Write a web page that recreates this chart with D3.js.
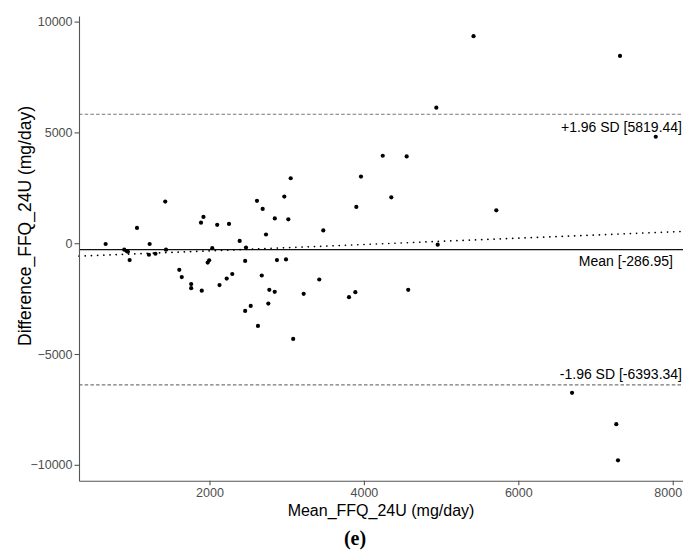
<!DOCTYPE html>
<html>
<head>
<meta charset="utf-8">
<script src="https://cdn.jsdelivr.net/npm/d3@7"></script>
<style>
  body { margin: 0; background: #fff; }
  svg { display: block; font-family: "Liberation Sans", Arial, sans-serif; }
  .axis path, .axis line { stroke: #555; stroke-width: 1.1; }
  .axis text { fill: #4d4d4d; font-size: 12.5px; font-family: "Liberation Sans", Arial, sans-serif; }
</style>
</head>
<body>
<div id="chart"></div>
<script>
// Mean of the two methods (mg/day)
const meanValues = [
  655, 896, 927, 944, 966, 1061, 1225, 1216, 1300, 1427,
  1437, 1609, 1641, 1763, 1763, 1900, 1890, 1922, 2036, 1996,
  1977, 2100, 2130, 2253, 2223, 2295, 2391, 2473, 2462, 2462,
  2534, 2628, 2615, 2689, 2732, 2677, 2775, 2762, 2845, 2874,
  2846, 2969, 3052, 3021, 2991, 3084, 3220, 3422, 3474, 3807,
  3889, 3902, 3962, 4244, 4355, 4554, 4574, 4938, 4956, 5715,
  5420, 6696, 7269, 7291, 7317, 7780
];
// Difference FFQ - 24U (mg/day)
const diffValues = [
  -36, -294, -353, -385, -760, 688, -36, -520, -475, 1878,
  -294, -1199, -1529, -1846, -2027, -2140, 928, 1186, -226, -769,
  -873, 828, -1887, 869, -1597, -1389, 104, -195, -801, -3054,
  -2828, -3733, 1914, 1548, 394, -1457, -2104, -2724, -2195, -760,
  1118, 2104, 2932, 1077, -733, -4321, -2285, -1638, 579, -2434,
  -2208, 1638, 3009, 3946, 2072, 3914, -2104, 6118, -68, 1484,
  9344, -6751, -8167, -9796, 8452, 4805
];

const meanDiff = -286.95;
const upperLoA = 5819.44;
const lowerLoA = -6393.34;
// proportional bias trend
const trendIntercept = -631;
const trendSlope = 0.143;

const xTicks = [2000, 4000, 6000, 8000];
const yTicks = [-10000, -5000, 0, 5000, 10000];

const W = 683, H = 557;
const panel = { left: 79, right: 683, top: 16, bottom: 480.7 };

const svg = d3.select("#chart")
  .append("svg")
  .attr("width", W)
  .attr("height", H);

const x = d3.scaleLinear()
  .domain([310, 8133])
  .range([panel.left, panel.right]);

const y = d3.scaleLinear()
  .domain([-10717, 10253])
  .range([panel.bottom, panel.top]);

// Reference lines
const xDom = x.domain();

svg.append("line")
  .attr("x1", panel.left).attr("x2", panel.right)
  .attr("y1", y(upperLoA)).attr("y2", y(upperLoA))
  .attr("stroke", "#777")
  .attr("stroke-width", 1.1)
  .attr("stroke-dasharray", "3.5,2.2");

svg.append("line")
  .attr("x1", panel.left).attr("x2", panel.right)
  .attr("y1", y(lowerLoA)).attr("y2", y(lowerLoA))
  .attr("stroke", "#777")
  .attr("stroke-width", 1.1)
  .attr("stroke-dasharray", "3.5,2.2");

svg.append("line")
  .attr("x1", panel.left).attr("x2", panel.right)
  .attr("y1", y(meanDiff)).attr("y2", y(meanDiff))
  .attr("stroke", "#111")
  .attr("stroke-width", 1.2);

// Trend line across the panel
svg.append("line")
  .attr("x1", x(xDom[0])).attr("x2", x(xDom[1]))
  .attr("y1", y(trendIntercept + trendSlope * xDom[0]))
  .attr("y2", y(trendIntercept + trendSlope * xDom[1]))
  .attr("stroke", "#000")
  .attr("stroke-width", 1.7)
  .attr("stroke-linecap", "round")
  .attr("stroke-dasharray", "0.1,6.1");

// Points
const points = meanValues.map((m, i) => ({ m: m, d: diffValues[i] }));

svg.selectAll("circle.pt")
  .data(points)
  .join("circle")
  .attr("class", "pt")
  .attr("cx", d => x(d.m))
  .attr("cy", d => y(d.d))
  .attr("r", 2.1)
  .attr("fill", "#000");

// Axes
const xAxis = svg.append("g")
  .attr("class", "axis")
  .attr("transform", `translate(0,${panel.bottom})`)
  .call(d3.axisBottom(x).tickValues(xTicks).tickFormat(d3.format("d"))
    .tickSize(4.5).tickPadding(3).tickSizeOuter(0));

// keep the last label inside the page
xAxis.selectAll(".tick text")
  .filter(d => d === 8000)
  .attr("dx", "-5");

svg.append("g")
  .attr("class", "axis")
  .attr("transform", `translate(${panel.left},0)`)
  .call(d3.axisLeft(y).tickValues(yTicks).tickFormat(d3.format("d"))
    .tickSize(4.5).tickPadding(2).tickSizeOuter(0));

// Line labels
svg.append("text")
  .attr("x", 682)
  .attr("y", y(upperLoA) + 18)
  .attr("text-anchor", "end")
  .style("font-size", "14px")
  .attr("fill", "#000")
  .text(`+1.96 SD [${upperLoA.toFixed(2)}]`);

svg.append("text")
  .attr("x", 673)
  .attr("y", y(meanDiff) + 16.5)
  .attr("text-anchor", "end")
  .style("font-size", "14px")
  .attr("fill", "#000")
  .text(`Mean [${meanDiff.toFixed(2)}]`);

svg.append("text")
  .attr("x", 682)
  .attr("y", y(lowerLoA) - 5.5)
  .attr("text-anchor", "end")
  .style("font-size", "14px")
  .attr("fill", "#000")
  .text(`-1.96 SD [${lowerLoA.toFixed(2)}]`);

// Axis titles
svg.append("text")
  .attr("x", (panel.left + panel.right) / 2)
  .attr("y", 516)
  .attr("text-anchor", "middle")
  .style("font-size", "16px")
  .attr("fill", "#000")
  .text("Mean_FFQ_24U (mg/day)");

svg.append("text")
  .attr("transform", "translate(31,226) rotate(-90)")
  .attr("text-anchor", "middle")
  .style("font-size", "17.5px")
  .attr("fill", "#000")
  .text("Difference_FFQ_24U (mg/day)");

// Panel letter
svg.append("text")
  .attr("x", 355)
  .attr("y", 545)
  .attr("text-anchor", "middle")
  .style("font-family", "'Liberation Serif', 'DejaVu Serif', serif")
  .style("font-weight", "bold")
  .style("font-size", "20px")
  .attr("fill", "#000")
  .text("(e)");
</script>
</body>
</html>
